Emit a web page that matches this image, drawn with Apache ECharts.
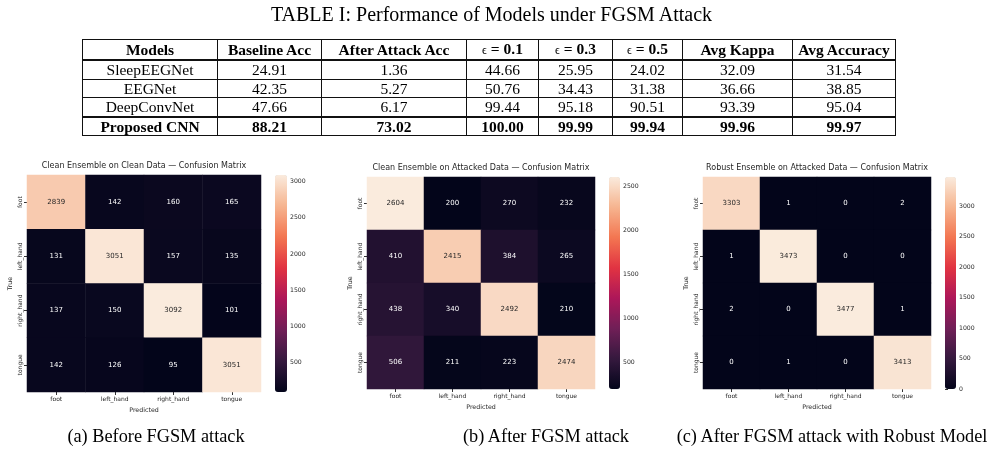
<!DOCTYPE html>
<html>
<head>
<meta charset="utf-8">
<script src="https://cdn.jsdelivr.net/npm/echarts@6/dist/echarts.min.js"></script>
<style>
body { margin: 0; background: #fff; }
#main { position: absolute; left: 0; top: 0; width: 992px; height: 452px; }
.serif { font-family: "Liberation Serif", "Times New Roman", serif; color: #000; position: absolute; white-space: nowrap; }
#tableTitle { left: 0; width: 983px; top: 3px; text-align: center; font-size: 20px; }
#tbl { left: 82px; top: 39px; border-collapse: collapse; table-layout: fixed; font-size: 15.5px; }
#tbl td { border: 1px solid #111; padding: 0; text-align: center; height: 17.6px; line-height: 17px; }
#tbl tr.head td { font-weight: bold; border-bottom: 2px solid #111; }
#tbl tr.best td { font-weight: bold; border-top: 2px solid #111; }
.eps { font-weight: normal; font-size: 12px; }
.cap { top: 426px; font-size: 18.3px; text-align: center; width: 360px; }
</style>
</head>
<body>
<div id="main"></div>
<div id="tableTitle" class="serif">TABLE I: Performance of Models under FGSM Attack</div>
<table id="tbl" class="serif"></table>
<div id="caps"></div>
<script>
// table values
var models = ['SleepEEGNet', 'EEGNet', 'DeepConvNet', 'Proposed CNN'];
var baselineAcc = ['24.91', '42.35', '47.66', '88.21'];
var afterAttackAcc = ['1.36', '5.27', '6.17', '73.02'];
var eps01 = ['44.66', '50.76', '99.44', '100.00'];
var eps03 = ['25.95', '34.43', '95.18', '99.99'];
var eps05 = ['24.02', '31.38', '90.51', '99.94'];
var avgKappa = ['32.09', '36.66', '93.39', '99.96'];
var avgAccuracy = ['31.54', '38.85', '95.04', '99.97'];
var headers = ['Models', 'Baseline Acc', 'After Attack Acc', '<span class="eps">&#1013;</span> = 0.1',
    '<span class="eps">&#1013;</span> = 0.3', '<span class="eps">&#1013;</span> = 0.5', 'Avg Kappa', 'Avg Accuracy'];
var colWidths = [135, 104, 145, 72, 74, 70, 110, 103];

// confusion matrices
var classes = ['foot', 'left_hand', 'right_hand', 'tongue'];
var cmClean = [[2839, 142, 160, 165], [131, 3051, 157, 135], [137, 150, 3092, 101], [142, 126, 95, 3051]];
var cmAttacked = [[2604, 200, 270, 232], [410, 2415, 384, 265], [438, 340, 2492, 210], [506, 211, 223, 2474]];
var cmRobust = [[3303, 1, 0, 2], [1, 3473, 0, 0], [2, 0, 3477, 1], [0, 1, 0, 3413]];
var ticksClean = [500, 1000, 1500, 2000, 2500, 3000];
var ticksAttacked = [500, 1000, 1500, 2000, 2500];
var ticksRobust = [0, 500, 1000, 1500, 2000, 2500, 3000];
var titles = ['Clean Ensemble on Clean Data \u2014 Confusion Matrix',
    'Clean Ensemble on Attacked Data \u2014 Confusion Matrix',
    'Robust Ensemble on Attacked Data \u2014 Confusion Matrix'];
var captions = ['(a) Before FGSM attack', '(b) After FGSM attack', '(c) After FGSM attack with Robust Model'];

// build the table
var tbl = document.getElementById('tbl');
var html = '<colgroup>';
colWidths.forEach(function (w) { html += '<col style="width:' + w + 'px">'; });
html += '</colgroup><tr class="head">';
headers.forEach(function (h) { html += '<td>' + h + '</td>'; });
html += '</tr>';
for (var r = 0; r < models.length; r++) {
    var cls = r === models.length - 1 ? ' class="best"' : '';
    html += '<tr' + cls + '>';
    [models, baselineAcc, afterAttackAcc, eps01, eps03, eps05, avgKappa, avgAccuracy].forEach(function (col) {
        html += '<td>' + col[r] + '</td>';
    });
    html += '</tr>';
}
tbl.innerHTML = html;

// captions
var capCenters = [156, 546, 832];
var caps = document.getElementById('caps');
captions.forEach(function (c, i) {
    var d = document.createElement('div');
    d.className = 'serif cap';
    d.style.left = (capCenters[i] - 180) + 'px';
    d.textContent = c;
    caps.appendChild(d);
});

var myChart = echarts.init(document.getElementById('main'));

var rocket = ['#03051a', '#35193e', '#701f57', '#ad1759', '#e13342', '#f37651', '#f6b48f', '#faebdd'];
var matrices = [cmClean, cmAttacked, cmRobust];
var tickSets = [ticksClean, ticksAttacked, ticksRobust];
var boxes = [
    { left: 27, top: 175, width: 234, height: 217, barLeft: 275, barWidth: 12 },
    { left: 367, top: 177, width: 228, height: 212, barLeft: 609, barWidth: 11 },
    { left: 703, top: 177, width: 228, height: 212, barLeft: 945, barWidth: 11 }
];
var txt = '#262626';
var font = 'DejaVu Sans';

var grid = [], xAxis = [], yAxis = [], series = [], visualMap = [], title = [];

matrices.forEach(function (cm, i) {
    var b = boxes[i];
    var flat = [].concat.apply([], cm);
    var lo = Math.min.apply(null, flat), hi = Math.max.apply(null, flat);
    var data = [];
    cm.forEach(function (row, y) {
        row.forEach(function (v, x) {
            var t = (v - lo) / (hi - lo);
            data.push({ value: [x, y, v], label: { color: t > 0.6 ? txt : '#ffffff' } });
        });
    });

    grid.push({ left: b.left, top: b.top, width: b.width, height: b.height });
    grid.push({ left: b.barLeft, top: b.top, width: b.barWidth, height: b.height });

    xAxis.push({
        type: 'category', gridIndex: 2 * i, data: classes,
        axisLine: { show: false },
        axisTick: { show: true, alignWithLabel: true, length: 3, lineStyle: { color: '#333' } },
        axisLabel: { fontSize: 6, color: txt, fontFamily: font, margin: 4 },
        name: 'Predicted', nameLocation: 'middle', nameGap: 15,
        nameTextStyle: { fontSize: 6.3, color: txt, fontFamily: font },
        splitLine: { show: false }
    });
    xAxis.push({ type: 'value', gridIndex: 2 * i + 1, show: false });

    yAxis.push({
        type: 'category', gridIndex: 2 * i, data: classes, inverse: true,
        axisLine: { show: false },
        axisTick: { show: true, alignWithLabel: true, length: 3, lineStyle: { color: '#333' } },
        axisLabel: { fontSize: 6, color: txt, fontFamily: font, rotate: 90, margin: 4 },
        name: 'True', nameLocation: 'middle', nameGap: 14,
        nameTextStyle: { fontSize: 6.3, color: txt, fontFamily: font },
        splitLine: { show: false }
    });
    yAxis.push({
        type: 'value', gridIndex: 2 * i + 1, min: lo, max: hi, position: 'right',
        axisLine: { show: false },
        axisTick: { show: true, length: 3, lineStyle: { color: '#333' }, customValues: tickSets[i] },
        axisLabel: {
            fontSize: 6.2, color: txt, fontFamily: font, margin: 3, customValues: tickSets[i],
            formatter: function (v) { return String(v); }
        },
        splitLine: { show: false }
    });

    series.push({
        type: 'heatmap', xAxisIndex: 2 * i, yAxisIndex: 2 * i, data: data,
        label: { show: true, fontSize: 7, fontFamily: font },
        emphasis: { disabled: true }
    });

    visualMap.push({
        type: 'continuous', seriesIndex: i, dimension: 2, min: lo, max: hi,
        inRange: { color: rocket }, calculable: false, show: true,
        orient: 'vertical', left: b.barLeft, top: b.top, padding: 0,
        itemWidth: b.barWidth, itemHeight: b.height, text: null
    });

    title.push({
        text: titles[i], left: b.left + b.width / 2, top: b.top - 13, textAlign: 'center', padding: 0,
        textStyle: { fontSize: 8, fontWeight: 'normal', color: txt, fontFamily: font }
    });
});

var option = {
    animation: false,
    title: title,
    grid: grid,
    xAxis: xAxis,
    yAxis: yAxis,
    visualMap: visualMap,
    series: series
};

myChart.setOption(option);
</script>
</body>
</html>
